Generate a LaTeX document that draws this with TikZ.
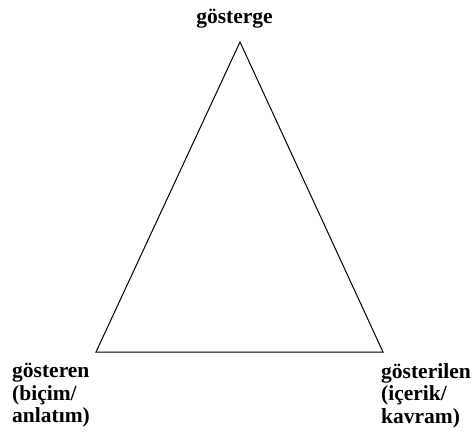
\documentclass[tikz,border=0pt]{standalone}
\usepackage{fontspec}
\setmainfont{Liberation Serif}
\begin{document}
\begin{tikzpicture}[x=1pt,y=-1pt,
  lbl/.style={inner sep=0pt,align=left,font=\bfseries\fontsize{21.5}{22.7}\selectfont},
  tri/.style={draw=black,line width=1pt,line join=miter}]
\useasboundingbox[fill=white] (0,0) rectangle (472,437);
\coordinate (top) at (240,42);
\coordinate (left) at (96,352);
\coordinate (right) at (383,352);
\draw[tri] (top) -- (left) -- (right) -- cycle;
\node[lbl,anchor=base] (sign) at (234.5,23) {gösterge};
\node[lbl,anchor=north west] (signifier) at (12,363) {gösteren\\(biçim/\\anlatım)};
\node[lbl,anchor=north west] (signified) at (381,363) {gösterilen\\(içerik/\\kavram)};
\end{tikzpicture}
\end{document}
